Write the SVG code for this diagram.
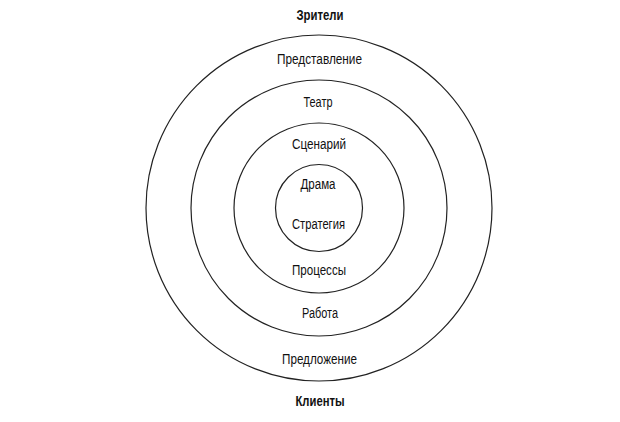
<svg xmlns="http://www.w3.org/2000/svg" width="620" height="422" viewBox="0 0 620 422">
<style>
  .ring { fill: none; stroke: #222; stroke-width: 1.2; }
  .lbl { font-family: "Liberation Sans Narrow", "Liberation Sans", sans-serif; font-size: 14px; fill: #111; text-anchor: middle; }
  .hdr { font-family: "Liberation Sans Narrow", "Liberation Sans", sans-serif; font-size: 14px; font-weight: bold; fill: #111; text-anchor: middle; }
</style>
<rect width="620" height="422" fill="#fff"/>
<g id="ring-outer"><circle class="ring" cx="319" cy="208" r="173"/></g>
<g id="ring-2"><circle class="ring" cx="319" cy="208" r="128"/></g>
<g id="ring-3"><circle class="ring" cx="319" cy="208" r="85"/></g>
<g id="ring-core"><circle class="ring" cx="319" cy="208" r="43.5"/></g>
<g id="labels">
  <text class="hdr" x="320" y="20" textLength="47" lengthAdjust="spacingAndGlyphs">Зрители</text>
  <text class="lbl" x="319.5" y="64" textLength="85" lengthAdjust="spacingAndGlyphs">Представление</text>
  <text class="lbl" x="318" y="107" textLength="29" lengthAdjust="spacingAndGlyphs">Театр</text>
  <text class="lbl" x="319" y="149" textLength="54" lengthAdjust="spacingAndGlyphs">Сценарий</text>
  <text class="lbl" x="318" y="189" textLength="35" lengthAdjust="spacingAndGlyphs">Драма</text>
  <text class="lbl" x="318.5" y="229" textLength="53" lengthAdjust="spacingAndGlyphs">Стратегия</text>
  <text class="lbl" x="319" y="275" textLength="54" lengthAdjust="spacingAndGlyphs">Процессы</text>
  <text class="lbl" x="320" y="318" textLength="36" lengthAdjust="spacingAndGlyphs">Работа</text>
  <text class="lbl" x="319.5" y="364" textLength="75" lengthAdjust="spacingAndGlyphs">Предложение</text>
  <text class="hdr" x="320" y="406" textLength="49" lengthAdjust="spacingAndGlyphs">Клиенты</text>
</g>
<g id="connectors"></g>
</svg>
